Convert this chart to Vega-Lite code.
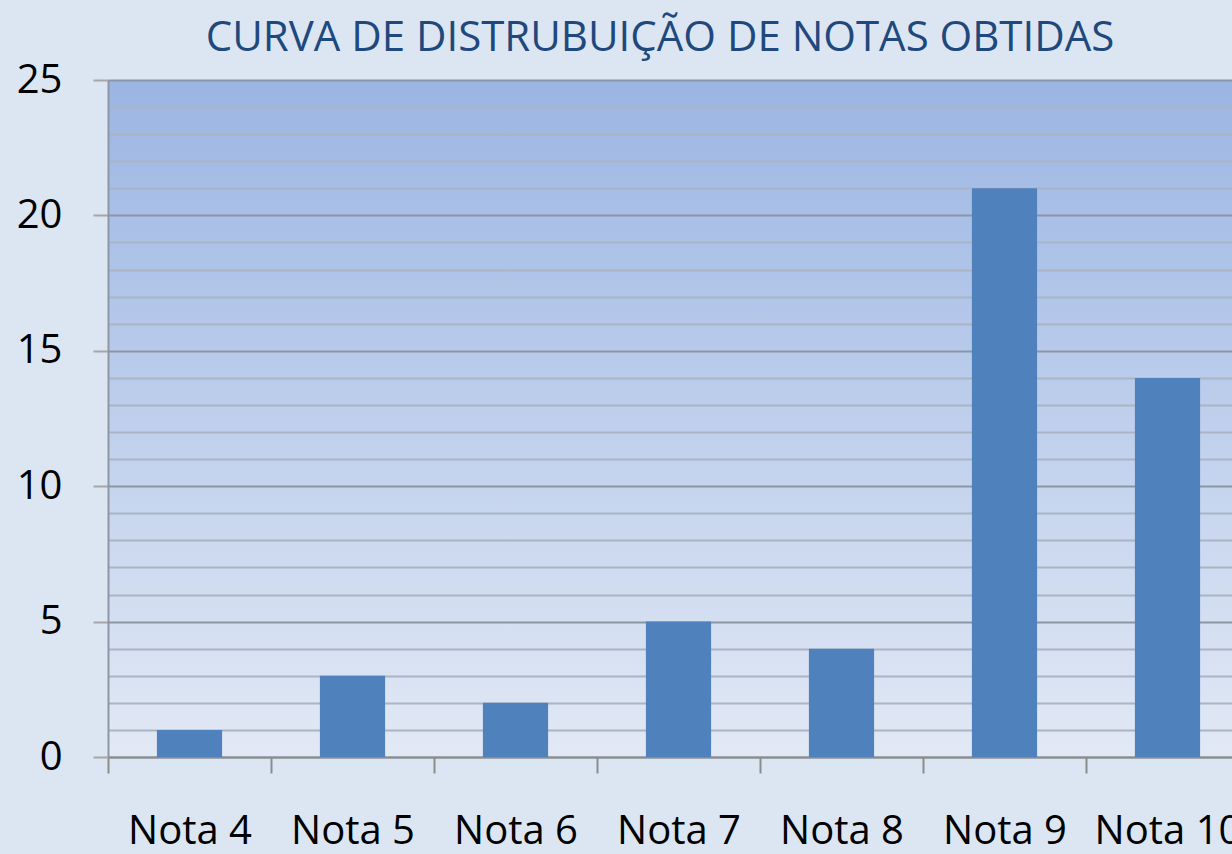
{
  "$schema": "https://vega.github.io/schema/vega-lite/v6.json",
  "autosize": {"type": "none"},
  "width": 1124,
  "height": 677,
  "padding": {"left": 108, "top": 80, "right": 0, "bottom": 97},
  "background": "#dce6f2",
  "title": {
    "text": "CURVA DE DISTRUBUIÇÃO DE NOTAS OBTIDAS",
    "font": "Open Sans",
    "fontSize": 42,
    "fontWeight": "normal",
    "color": "#1f497d",
    "anchor": "middle",
    "offset": 0,
    "dx": -10
  },
  "view": {
    "stroke": null,
    "fill": {
      "gradient": "linear",
      "x1": 0, "y1": 0, "x2": 0, "y2": 1,
      "stops": [
        {"offset": 0, "color": "#9bb5e3"},
        {"offset": 1, "color": "#e2e9f5"}
      ]
    }
  },
  "data": {
    "values": [
      {"nota": "Nota 4", "count": 1},
      {"nota": "Nota 5", "count": 3},
      {"nota": "Nota 6", "count": 2},
      {"nota": "Nota 7", "count": 5},
      {"nota": "Nota 8", "count": 4},
      {"nota": "Nota 9", "count": 21},
      {"nota": "Nota 10", "count": 14}
    ]
  },
  "mark": {"type": "bar", "color": "#4f81bd", "width": {"band": 0.4}},
  "encoding": {
    "x": {
      "field": "nota",
      "type": "nominal",
      "sort": null,
      "scale": {"range": [0, 1141], "paddingInner": 0, "paddingOuter": 0},
      "axis": {
        "title": null,
        "labelAngle": 0,
        "labelFont": "Open Sans",
        "labelFontSize": 40,
        "labelColor": "#000000",
        "labelPadding": 38,
        "tickBand": "extent",
        "tickSize": 16,
        "tickWidth": 2,
        "tickColor": "#8c8c8c",
        "domainColor": "#8c8c8c",
        "domainWidth": 2,
        "grid": false
      }
    },
    "y": {
      "field": "count",
      "type": "quantitative",
      "scale": {"domain": [0, 25], "nice": false},
      "axis": {
        "title": null,
        "values": [0,1,2,3,4,5,6,7,8,9,10,11,12,13,14,15,16,17,18,19,20,21,22,23,24,25],
        "labelExpr": "datum.value % 5 === 0 ? datum.label : ''",
        "labelFont": "Open Sans",
        "labelFontSize": 40,
        "labelColor": "#000000",
        "labelPadding": 31,
        "tickSize": 15,
        "tickWidth": 2,
        "tickColor": {"condition": {"test": "datum.value % 5 === 0", "value": "#a6a6a6"}, "value": "transparent"},
        "domainColor": "#8e96a4",
        "domainWidth": 2,
        "grid": true,
        "gridWidth": 2,
        "gridColor": {"condition": {"test": "datum.value % 5 === 0", "value": "#8b95a6"}, "value": "#aab4c4"}
      }
    }
  }
}
